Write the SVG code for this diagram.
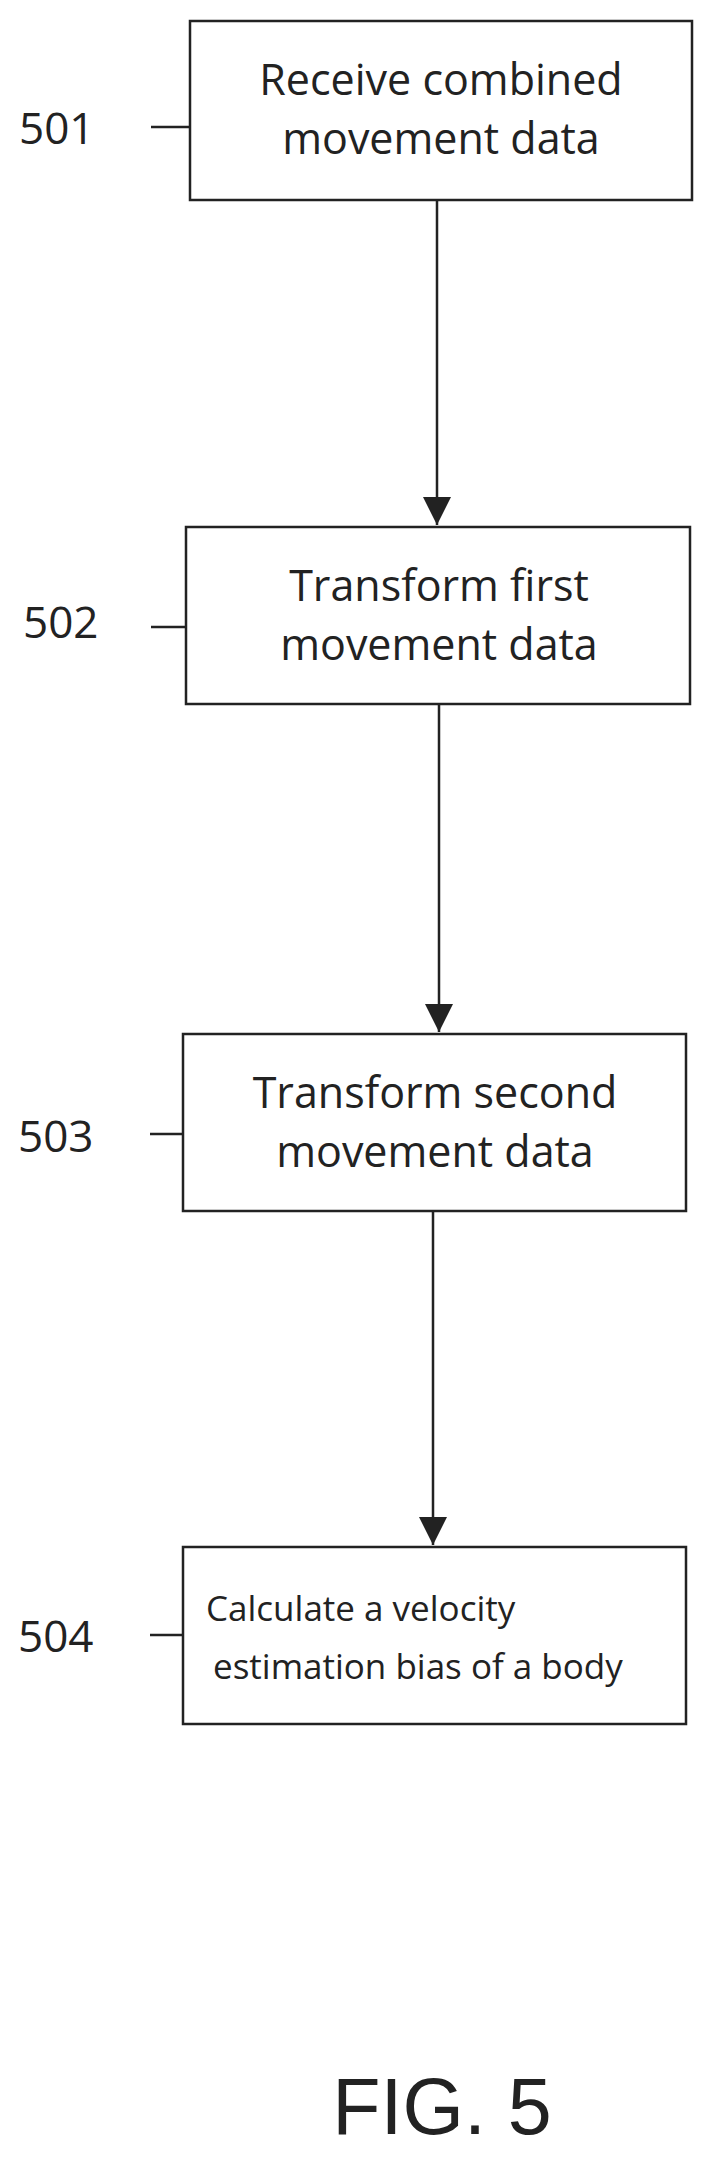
<svg xmlns="http://www.w3.org/2000/svg" width="715" height="2161" viewBox="0 0 715 2161">
<style>
.box{fill:#fff;stroke:#222;stroke-width:2.5}
.t{font-family:"Open Sans",sans-serif;font-size:43px;fill:#222;text-anchor:middle}
.s{font-family:"Open Sans",sans-serif;font-size:35px;fill:#222}
.l{font-family:"Open Sans",sans-serif;font-size:44px;fill:#222}
.c{stroke:#222;stroke-width:2.5;fill:none}
</style>
<defs>
<marker id="ah" viewBox="0 0 10 10" refX="10" refY="5" markerWidth="28" markerHeight="28" orient="auto" markerUnits="userSpaceOnUse"><path d="M0,0 L10,5 L0,10 z" fill="#222"/></marker></defs>
<g id="connectors">
<line class="c" x1="437" y1="200" x2="437" y2="525" marker-end="url(#ah)"/>
<line class="c" x1="439" y1="704" x2="439" y2="1032" marker-end="url(#ah)"/>
<line class="c" x1="433" y1="1211" x2="433" y2="1545" marker-end="url(#ah)"/>
<path class="c" d="M151,127 H190 M151,627 H186 M150,1134 H183 M150,1635 H183"/>
</g>
<g id="n501"><rect class="box" x="190" y="21" width="502" height="179"/>
<text class="t" x="441" y="95">Receive combined</text><text class="t" x="441" y="154">movement data</text>
<text class="l" x="19" y="144">501</text></g>
<g id="n502"><rect class="box" x="186" y="527" width="504" height="177"/>
<text class="t" x="439" y="601">Transform first</text><text class="t" x="439" y="660">movement data</text>
<text class="l" x="23" y="638">502</text></g>
<g id="n503"><rect class="box" x="183" y="1034" width="503" height="177"/>
<text class="t" x="435" y="1108">Transform second</text><text class="t" x="435" y="1167">movement data</text>
<text class="l" x="18" y="1152">503</text></g>
<g id="n504"><rect class="box" x="183" y="1547" width="503" height="177"/>
<text class="s" x="206" y="1621">Calculate a velocity</text><text class="s" x="213" y="1679">estimation bias of a body</text>
<text class="l" x="18" y="1652">504</text></g>
<text x="442" y="2134" font-family="Liberation Sans,sans-serif" font-size="79" fill="#222" text-anchor="middle">FIG. 5</text>
</svg>
